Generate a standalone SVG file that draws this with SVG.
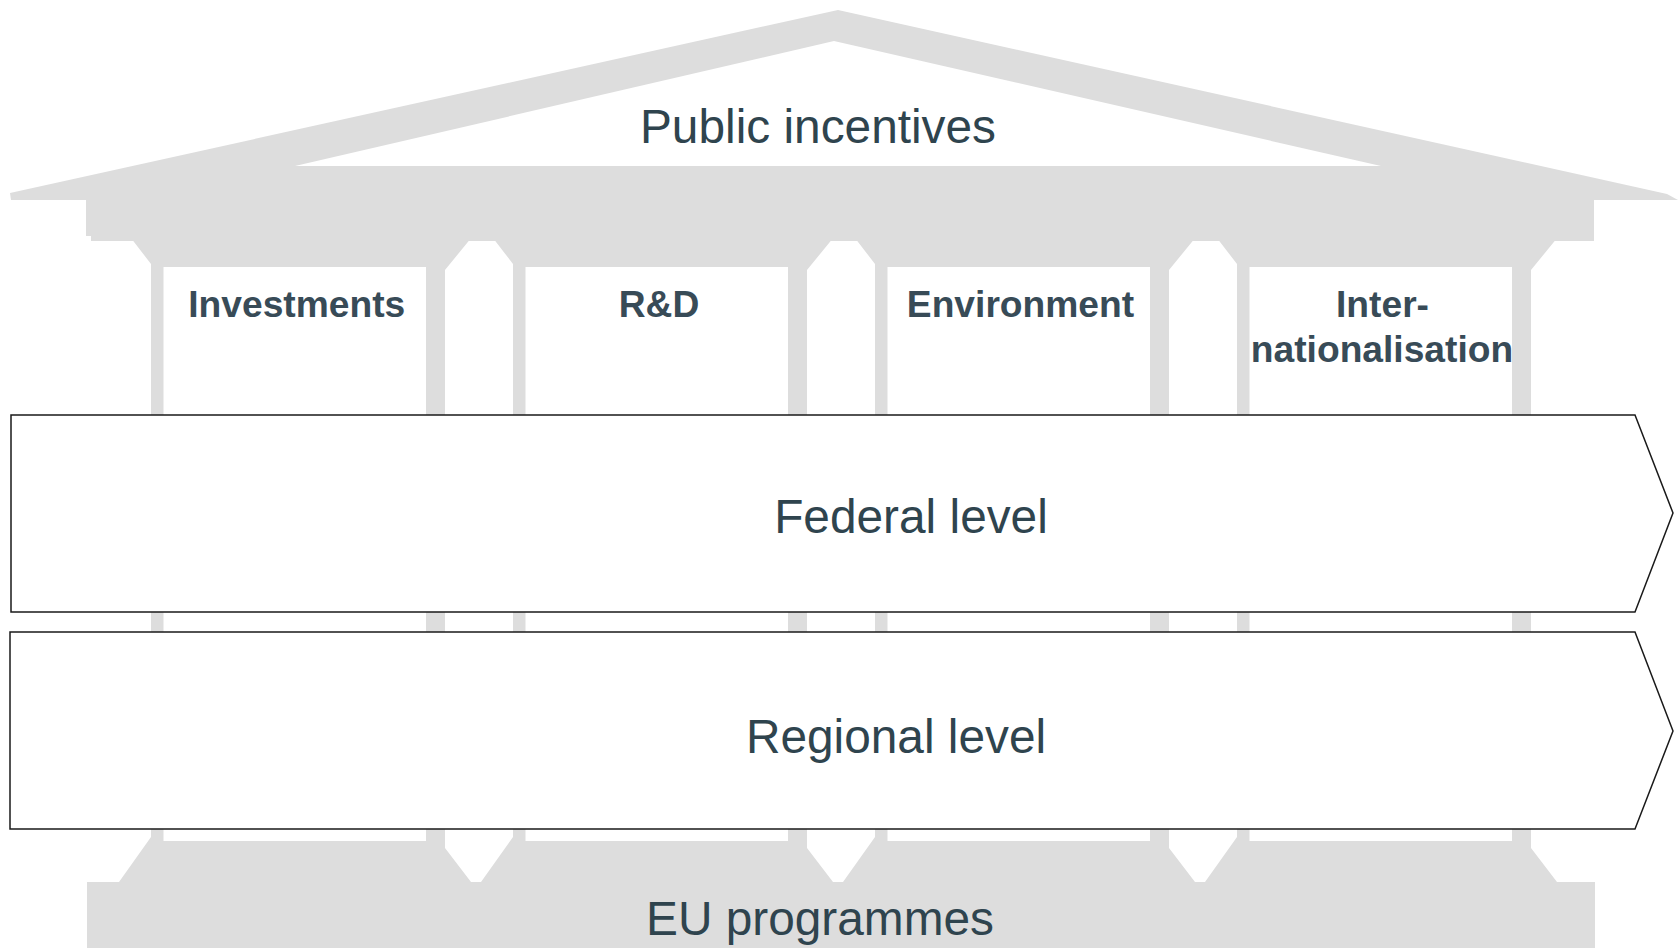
<svg xmlns="http://www.w3.org/2000/svg" width="1680" height="948" viewBox="0 0 1680 948">
  <style>
    .g { fill: #DDDDDD; }
    .w { fill: #FFFFFF; }
    .box { fill: #FFFFFF; stroke: #1A1A1A; stroke-width: 1.5; }
    .big { font-family: "Liberation Sans", Arial, sans-serif; font-size: 47.8px; fill: #2F444E; text-anchor: middle; }
    .lab { font-family: "Liberation Sans", Arial, sans-serif; font-size: 37.2px; font-weight: bold; fill: #384B57; text-anchor: middle; }
  </style>
  <rect x="0" y="0" width="1680" height="948" fill="#FFFFFF"/>
  <g id="roof">
    <polygon class="g" points="10,193 838,10 1667,194 1678,200 11,200"/>
    <polygon class="w" points="295,166 834,41 1381,166"/>
    <rect class="g" x="86" y="199" width="1508" height="37"/>
    <rect class="g" x="91" y="199" width="1503" height="42"/>
    <text class="big" x="818" y="143">Public incentives</text>
  </g>
  <g id="pillar-investments">
    <polygon class="g" points="132.5,240 469.5,240 445,270 445,848 471,882 119,882 151,837 151,264"/>
    <rect class="w" x="163.5" y="267" width="262.5" height="574"/>
    <text class="lab" x="296.8" y="317">Investments</text>
  </g>
  <g id="pillar-rd">
    <polygon class="g" points="494.5,240 831.5,240 807,270 807,848 833,882 481,882 513,837 513,264"/>
    <rect class="w" x="525.5" y="267" width="262.5" height="574"/>
    <text class="lab" x="659" y="317">R&amp;D</text>
  </g>
  <g id="pillar-environment">
    <polygon class="g" points="856.5,240 1193.5,240 1169,270 1169,848 1195,882 843,882 875,837 875,264"/>
    <rect class="w" x="887.5" y="267" width="262.5" height="574"/>
    <text class="lab" x="1020.5" y="317">Environment</text>
  </g>
  <g id="pillar-internationalisation">
    <polygon class="g" points="1218.5,240 1555.5,240 1531,270 1531,848 1557,882 1205,882 1237,837 1237,264"/>
    <rect class="w" x="1249.5" y="267" width="262.5" height="574"/>
    <text class="lab" x="1382.5" y="317">Inter-</text>
    <text class="lab" x="1382" y="362">nationalisation</text>
  </g>
  <g id="base">
    <rect class="g" x="87" y="882" width="1508" height="66"/>
    <text class="big" x="820" y="935">EU programmes</text>
  </g>
  <g id="federal">
    <polygon class="box" points="11,415 1635,415 1673,513 1635,612 11,612"/>
    <text class="big" x="911" y="533">Federal level</text>
  </g>
  <g id="regional">
    <polygon class="box" points="10,632 1635,632 1673,731 1635,829 10,829"/>
    <text class="big" x="896" y="753">Regional level</text>
  </g>
  <g id="connectors"/>
</svg>
